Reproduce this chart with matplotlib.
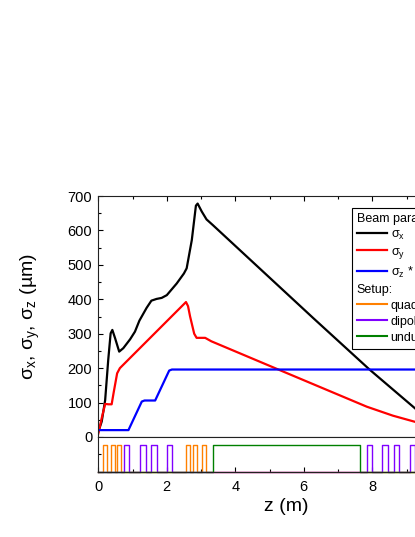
import numpy as np
import matplotlib
matplotlib.use('Agg')
from matplotlib import pyplot as plt
from matplotlib.lines import Line2D
from matplotlib.ticker import MultipleLocator

plt.rcParams['font.family'] = ['Liberation Sans', 'DejaVu Sans']
plt.rcParams['mathtext.default'] = 'regular'
plt.rcParams['mathtext.fontset'] = 'custom'
plt.rcParams['mathtext.rm'] = 'Liberation Sans'

# beam sizes (um) along z (m)
z_x = [0.0, 0.1, 0.2, 0.29, 0.36, 0.41, 0.49, 0.61, 0.73, 0.93, 1.07, 1.2, 1.41, 1.55,
       1.7, 1.85, 2.0, 2.29, 2.5, 2.58, 2.73, 2.85, 2.9, 3.02, 3.16, 3.35, 6.28, 7.93, 9.25, 9.6]
sig_x = [15, 45, 107, 224, 301, 311, 287, 248, 258, 284, 306, 338, 375, 396,
         401, 404, 412, 446, 475, 490, 572, 672, 678, 655, 632, 615, 345, 195, 83, 52]

z_y = [0.0, 0.1, 0.2, 0.3, 0.39, 0.45, 0.55, 0.63, 2.56, 2.62, 2.68, 2.8, 2.87, 3.12,
       3.3, 5.4, 7.84, 8.6, 9.25, 9.6]
sig_y = [10, 55, 96, 95, 95, 130, 185, 200, 392, 380, 350, 300, 288, 288,
         278, 190, 88, 62, 44, 36]

z_z = [0.0, 0.88, 1.27, 1.35, 1.66, 2.07, 2.15, 9.6]
sig_z = [20, 20, 103, 106, 106, 193, 196, 196]

# setup elements (start, end) in m
quad_start = [0.15, 0.36, 0.56, 2.55, 2.76, 3.02]
quad_end = [0.26, 0.48, 0.67, 2.67, 2.88, 3.14]
dipole_start = [0.76, 1.22, 1.54, 2.00, 7.84, 8.29, 8.63, 9.10]
dipole_end = [0.91, 1.38, 1.71, 2.16, 8.00, 8.45, 8.79, 9.26]
und_start = [3.36]
und_end = [7.64]

Z_MAX = 11


def steps(starts, ends, h=0.77):
    xs, ys = [0], [0]
    for s, e in zip(starts, ends):
        xs += [s, s, e, e]
        ys += [0, h, h, 0]
    xs.append(Z_MAX)
    ys.append(0)
    return xs, ys


fig = plt.figure(figsize=(4.15, 5.37), dpi=100)
W, H = 415, 537
left = 98.3 / W
width = 376.75 / W
ax = fig.add_axes([left, (H - 437) / H, width, 241 / H])
axb = fig.add_axes([left, (H - 471.5) / H, width, 34.5 / H], sharex=ax)

ax.plot(z_x, sig_x, color='black', lw=1.6, label=r'σ$_x$')
ax.plot(z_y, sig_y, color='red', lw=1.6, label=r'σ$_y$')
ax.plot(z_z, sig_z, color='blue', lw=1.6, label=r'σ$_z$ * 10')
ax.set_xlim(0, Z_MAX)
ax.set_ylim(0, 700)

cols = {'quad': '#ff8000', 'dip': '#8000ff', 'und': '#008000'}
xs, ys = steps(quad_start, quad_end)
axb.plot(xs, ys, color=cols['quad'], lw=1.0, clip_on=False)
xs, ys = steps(dipole_start, dipole_end)
axb.plot(xs, ys, color=cols['dip'], lw=1.0, clip_on=False)
xs, ys = steps(und_start, und_end)
axb.plot(xs, ys, color=cols['und'], lw=1.0, clip_on=False)
axb.set_ylim(0, 1)

for a in (ax, axb):
    for sp in a.spines.values():
        sp.set_linewidth(0.8)
        sp.set_color('#222222')

ax.xaxis.set_major_locator(MultipleLocator(2))
ax.xaxis.set_minor_locator(MultipleLocator(1))
ax.yaxis.set_major_locator(MultipleLocator(100))
ax.yaxis.set_minor_locator(MultipleLocator(50))
ax.tick_params(which='both', direction='in', top=True, bottom=False, labelbottom=False,
               right=False, labelsize=10.5)
ax.tick_params(which='major', length=3.6, width=0.8, pad=4.4)
ax.tick_params(which='minor', length=2.2, width=0.8)

axb.set_yticks([])
axb.set_yticks([0.5], minor=True)
axb.tick_params(which='both', direction='in', top=False, right=False, labelsize=10.5)
axb.tick_params(which='major', length=3.6, width=0.8, pad=6)
axb.tick_params(which='minor', length=2.2, width=0.8)
axb.tick_params(axis='y', which='minor', labelleft=False)

ax.set_ylabel(r'σ$_x$, σ$_y$, σ$_z$ (µm)', fontsize=14)
ax.yaxis.set_label_coords(-0.15, 0.5)
axb.set_xlabel('z (m)', fontsize=14)
axb.xaxis.set_label_coords(0.5, -0.78)

handles, labels = ax.get_legend_handles_labels()
handles += [Line2D([], [], color='none'),
            Line2D([], [], color=cols['quad'], lw=1.5),
            Line2D([], [], color=cols['dip'], lw=1.5),
            Line2D([], [], color=cols['und'], lw=1.5)]
labels += ['Setup:', 'quadrupoles', 'dipoles', 'undulator']
leg = ax.legend(handles, labels, title='Beam parameters:', alignment='left',
                loc='upper left', bbox_to_anchor=(0.673, 0.952), fontsize=9,
                title_fontsize=9, fancybox=False, framealpha=1, edgecolor='black',
                handlelength=2.4, handletextpad=0.3, labelspacing=0.32,
                borderpad=0.4, borderaxespad=0)
leg.get_frame().set_linewidth(0.8)
# put "Setup:" flush left like a second heading
row = leg._legend_handle_box.get_children()[0].get_children()[3]
row.get_children()[0].width = 0
row.sep = 0

fig.savefig('out.png', dpi=100)
